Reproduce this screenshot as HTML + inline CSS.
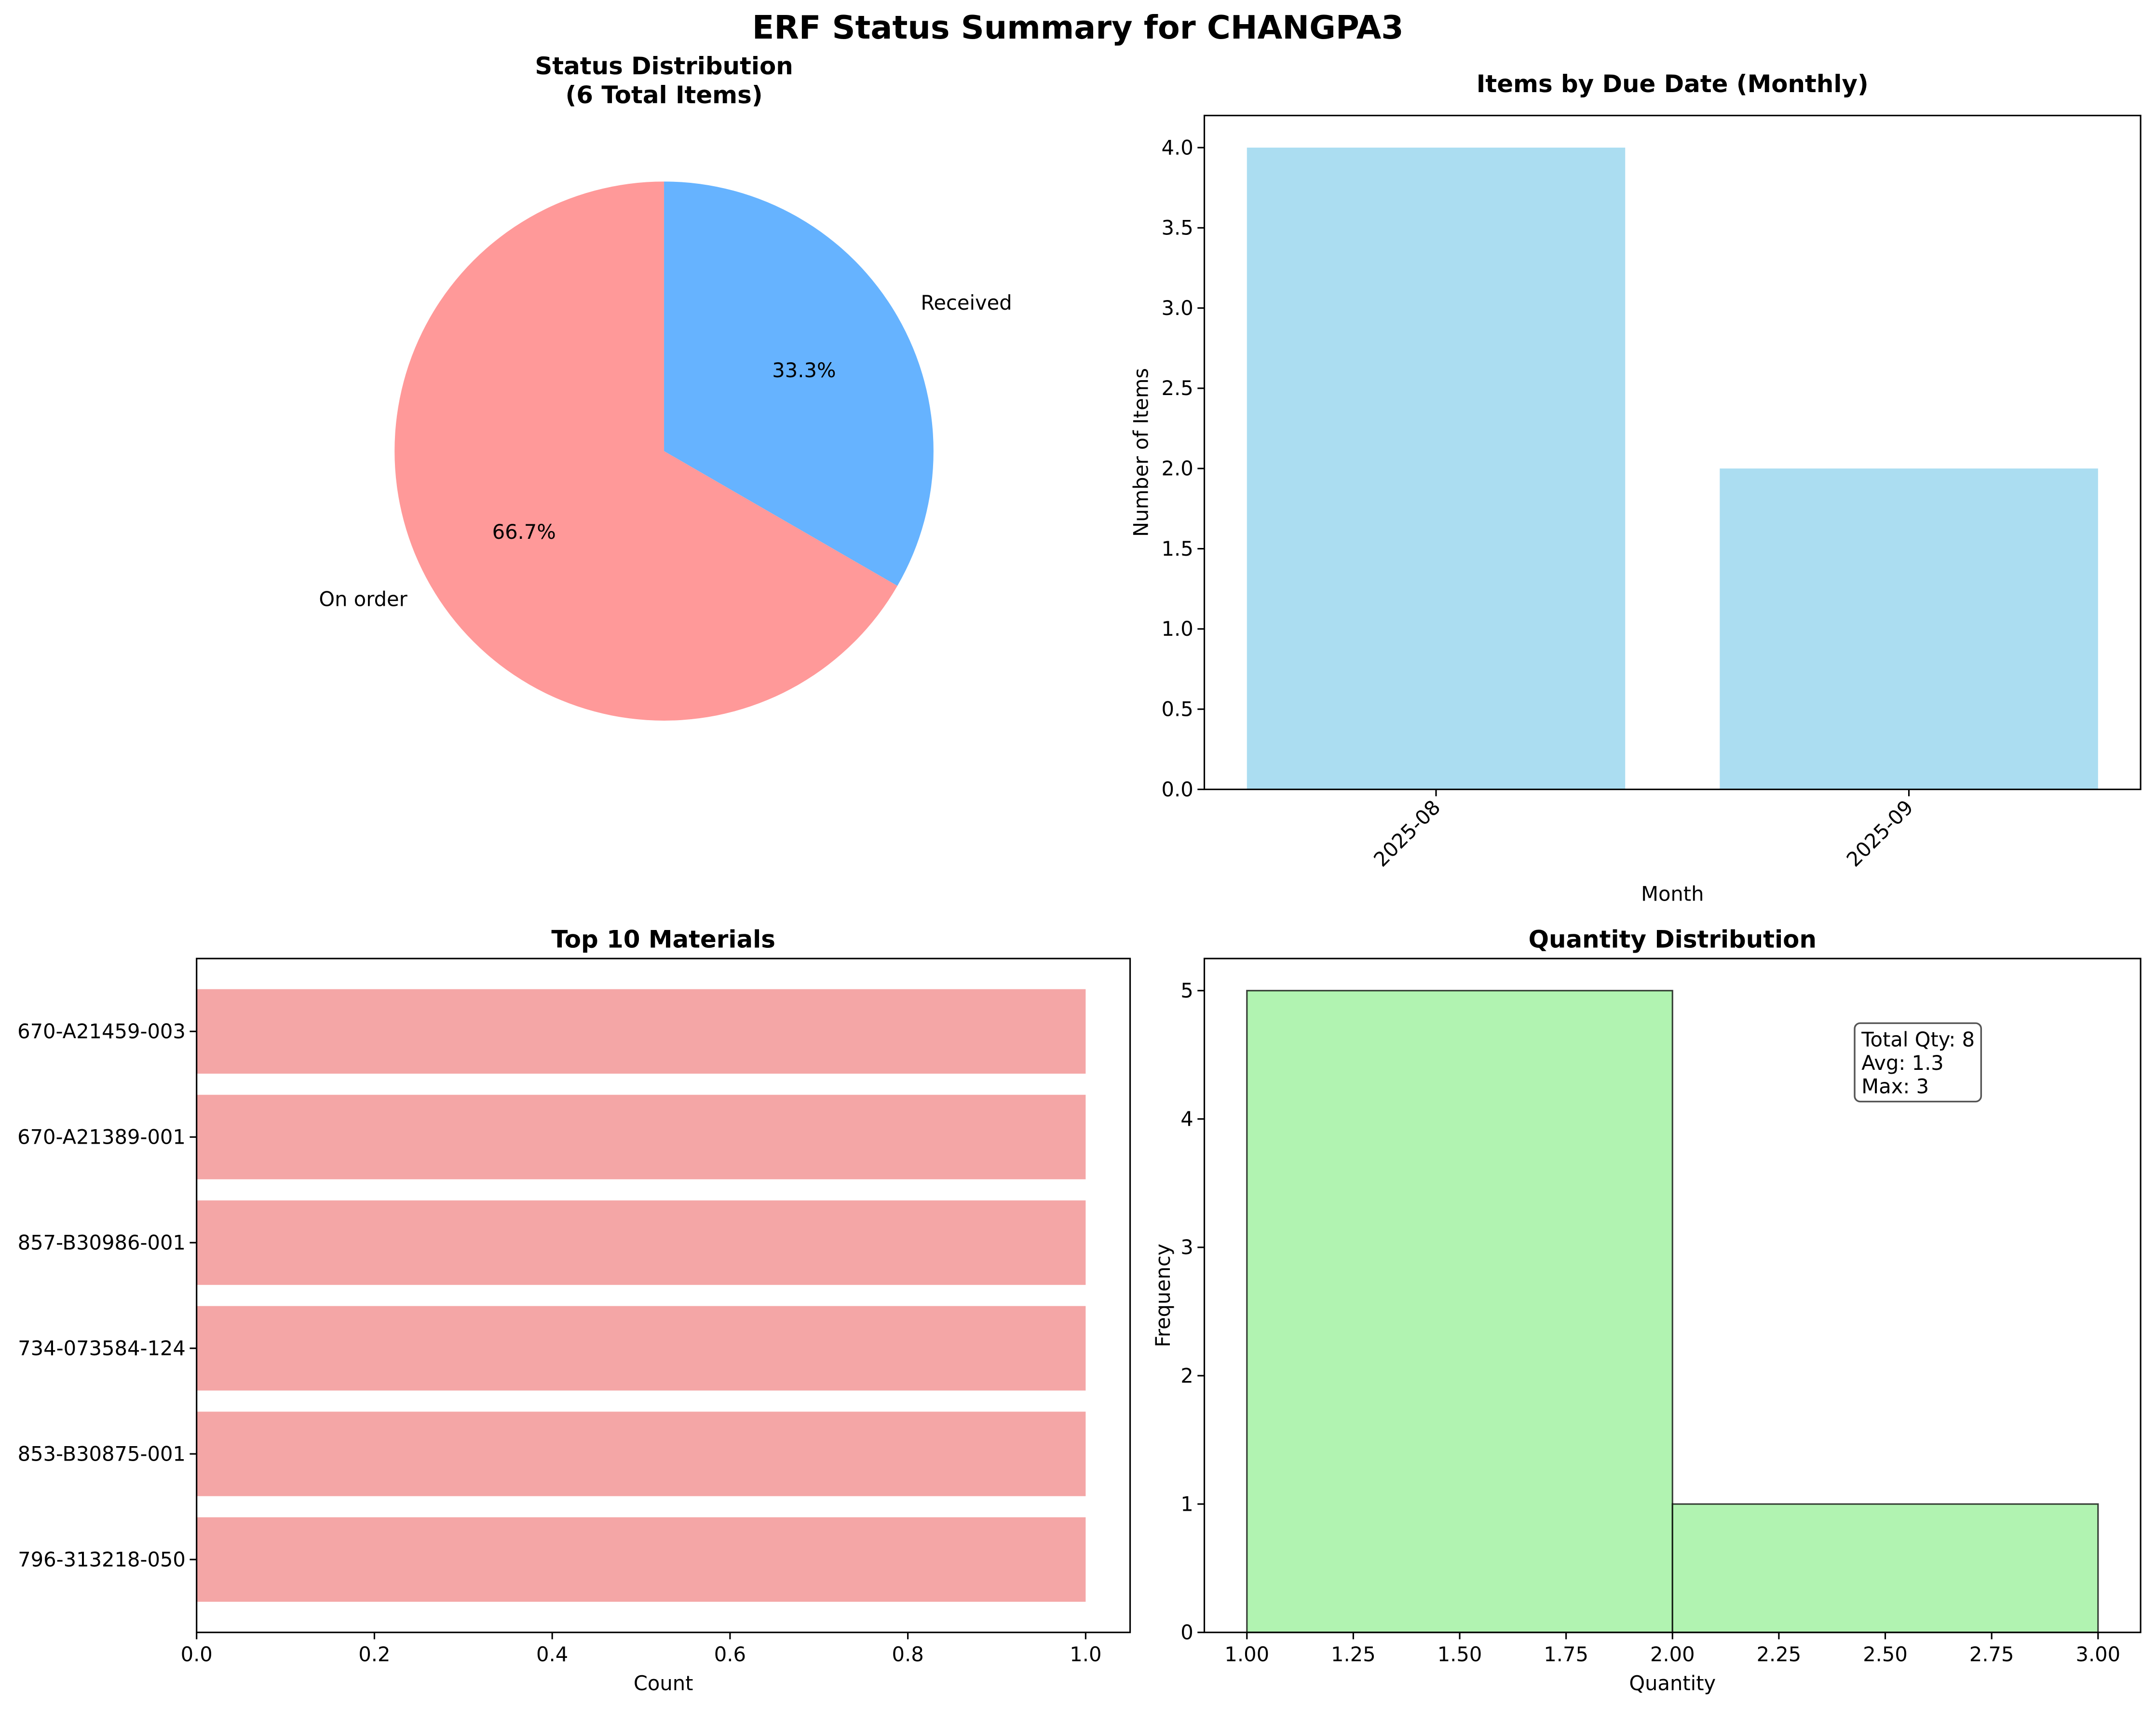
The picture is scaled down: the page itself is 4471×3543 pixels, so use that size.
<!DOCTYPE html>
<html><head><meta charset="utf-8"><style>
html,body{margin:0;padding:0;background:#fff}
svg{display:block}
text{font-family:"DejaVu Sans","Liberation Sans",sans-serif;fill:#000}
</style></head><body>
<svg id="fig" width="4471" height="3543" viewBox="0 0 1568.2 1242.7" preserveAspectRatio="none" xmlns="http://www.w3.org/2000/svg">
<text x="784" y="28" text-anchor="middle" font-size="23.4" font-weight="bold">ERF Status Summary for CHANGPA3</text>
<g id="pie"></g>
<g id="bar"></g>
<g id="barh"></g>
<g id="hist"></g>
</svg>
<script>
// Pie data
const pieLabels = ["On order", "Received"];
const pieValues = [4, 2];
// Monthly bar data
const months = ["2025-08", "2025-09"];
const monthCounts = [4, 2];
const barYTicks = [0, 0.5, 1, 1.5, 2, 2.5, 3, 3.5, 4];
// Materials
const materials = ["796-313218-050", "853-B30875-001", "734-073584-124", "857-B30986-001", "670-A21389-001", "670-A21459-003"];
const materialCounts = [1, 1, 1, 1, 1, 1];
const barhXTicks = [0, 0.2, 0.4, 0.6, 0.8, 1.0];
// Histogram
const histEdges = [1, 2, 3];
const histCounts = [5, 1];
const histXTicks = [1, 1.25, 1.5, 1.75, 2, 2.25, 2.5, 2.75, 3];
const histYTicks = [0, 1, 2, 3, 4, 5];
const statsLines = ["Total Qty: 8", "Avg: 1.3", "Max: 3"];

const NS = "http://www.w3.org/2000/svg";
function mk(parent, tag, attrs, txt) {
  const e = document.createElementNS(NS, tag);
  for (const k in attrs) e.setAttribute(k, attrs[k]);
  if (txt !== undefined) e.textContent = txt;
  parent.appendChild(e);
  return e;
}
const FS = 14.6, TS = 17.5;

// ---------- PIE ----------
(function(){
  const g = document.getElementById('pie');
  const cx = 483, cy = 328, r = 196;
  const colors = ["#ff9999", "#66b3ff"];
  const t = mk(g, 'text', {x: cx, y: 54, 'text-anchor': 'middle', 'font-size': TS, 'font-weight': 'bold'}, 'Status Distribution');
  
  
  const t2 = mk(g, 'text', {x: cx, y: 75, 'text-anchor': 'middle', 'font-size': TS, 'font-weight': 'bold'}, '(' + pieValues.reduce((a,b)=>a+b,0) + ' Total Items)');
  
  
  const total = pieValues.reduce((a,b)=>a+b,0);
  let ang = 90;
  pieValues.forEach((v, i) => {
    const sweep = v / total * 360;
    const a0 = ang * Math.PI/180, a1 = (ang + sweep) * Math.PI/180;
    const x0 = cx + r*Math.cos(a0), y0 = cy - r*Math.sin(a0);
    const x1 = cx + r*Math.cos(a1), y1 = cy - r*Math.sin(a1);
    const large = sweep > 180 ? 1 : 0;
    const p = mk(g, 'path', {d: `M${cx},${cy} L${x0},${y0} A${r},${r} 0 ${large} 0 ${x1},${y1} Z`, fill: colors[i]});
    
    
    const mid = (ang + sweep/2) * Math.PI/180;
    const lx = cx + 1.1*r*Math.cos(mid), ly = cy - 1.1*r*Math.sin(mid);
    const l = mk(g, 'text', {x: lx, y: ly + 5, 'text-anchor': Math.cos(mid) >= 0 ? 'start' : 'end', 'font-size': FS}, pieLabels[i]);
    
    
    const px = cx + 0.6*r*Math.cos(mid), py = cy - 0.6*r*Math.sin(mid);
    const pc = mk(g, 'text', {x: px, y: py + 5, 'text-anchor': 'middle', 'font-size': FS}, (v/total*100).toFixed(1) + '%');
    
    
    ang += sweep;
  });
})();

function frame(g, L, T, R, B) {
  const f = mk(g, 'rect', {x: L, y: T, width: R-L, height: B-T, fill: 'none', stroke: '#000', 'stroke-width': 1.1});
  
  
}
function ytick(g, L, y, label) {
  mk(g, 'line', {x1: L-5, x2: L, y1: y, y2: y, stroke: '#000', 'stroke-width': 1.1});
  const t = mk(g, 'text', {x: L-8, y: y+5, 'text-anchor': 'end', 'font-size': FS}, label);
  
  
}
function xtick(g, x, B, label) {
  mk(g, 'line', {x1: x, x2: x, y1: B, y2: B+5, stroke: '#000', 'stroke-width': 1.1});
  const t = mk(g, 'text', {x: x, y: B+21, 'text-anchor': 'middle', 'font-size': FS}, label);
  
  
}

// ---------- BAR ----------
(function(){
  const g = document.getElementById('bar');
  const L = 876, R = 1557, T = 84, B = 574;
  const n = months.length;
  const xmin = -0.4 - 0.05*(n-1+0.8), xmax = n-1+0.4 + 0.05*(n-1+0.8);
  const ymax = Math.max(...monthCounts) * 1.05;
  const sx = v => L + (v - xmin)/(xmax - xmin)*(R-L);
  const sy = v => B - v/ymax*(B-T);
  monthCounts.forEach((v, i) => {
    const b = mk(g, 'rect', {x: sx(i-0.4), y: sy(v), width: sx(i+0.4)-sx(i-0.4), height: B - sy(v), fill: '#87ceeb', 'fill-opacity': 0.7});
    
    
  });
  frame(g, L, T, R, B);
  barYTicks.forEach(v => ytick(g, L, sy(v), v.toFixed(1)));
  months.forEach((m, i) => {
    const x = sx(i);
    mk(g, 'line', {x1: x, x2: x, y1: B, y2: B+5, stroke: '#000', 'stroke-width': 1.1});
    const t = mk(g, 'text', {x: x+4, y: B+14, 'text-anchor': 'end', 'font-size': FS, transform: `rotate(-45 ${x+4} ${B+14})`}, m);
    
    
  });
  const tt = mk(g, 'text', {x: (L+R)/2, y: T-17, 'text-anchor': 'middle', 'font-size': TS, 'font-weight': 'bold'}, 'Items by Due Date (Monthly)');
  
  
  const xl = mk(g, 'text', {x: (L+R)/2, y: 655, 'text-anchor': 'middle', 'font-size': FS}, 'Month');
  
  
  const yl = mk(g, 'text', {x: 835, y: (T+B)/2, 'text-anchor': 'middle', 'font-size': FS, transform: `rotate(-90 835 ${(T+B)/2})`}, 'Number of Items');
  
  
})();

// ---------- BARH ----------
(function(){
  const g = document.getElementById('barh');
  const L = 143, R = 822, T = 697, B = 1187;
  const n = materials.length;
  const xmax = Math.max(...materialCounts) * 1.05;
  const span = (n-1+0.8);
  const ymin = -0.4 - 0.05*span, ymax = n-1+0.4 + 0.05*span;
  const sx = v => L + v/xmax*(R-L);
  const sy = v => B - (v - ymin)/(ymax - ymin)*(B-T);
  materialCounts.forEach((v, i) => {
    const b = mk(g, 'rect', {x: L, y: sy(i+0.4), width: sx(v)-L, height: sy(i-0.4)-sy(i+0.4), fill: '#f08080', 'fill-opacity': 0.7});
    
    
  });
  frame(g, L, T, R, B);
  materials.forEach((m, i) => ytick(g, L, sy(i), m));
  barhXTicks.forEach(v => xtick(g, sx(v), B, v.toFixed(1)));
  const tt = mk(g, 'text', {x: (L+R)/2, y: T-8, 'text-anchor': 'middle', 'font-size': TS, 'font-weight': 'bold'}, 'Top 10 Materials');
  
  
  const xl = mk(g, 'text', {x: (L+R)/2, y: 1229, 'text-anchor': 'middle', 'font-size': FS}, 'Count');
  
  
})();

// ---------- HIST ----------
(function(){
  const g = document.getElementById('hist');
  const L = 876, R = 1557, T = 697, B = 1187;
  const lo = histEdges[0], hi = histEdges[histEdges.length-1];
  const pad = (hi-lo)*0.05;
  const xmin = lo - pad, xmax = hi + pad;
  const ymax = Math.max(...histCounts) * 1.05;
  const sx = v => L + (v - xmin)/(xmax - xmin)*(R-L);
  const sy = v => B - v/ymax*(B-T);
  histCounts.forEach((c, i) => {
    const b = mk(g, 'rect', {x: sx(histEdges[i]), y: sy(c), width: sx(histEdges[i+1])-sx(histEdges[i]), height: B - sy(c), fill: '#90ee90', 'fill-opacity': 0.7, stroke: '#000', 'stroke-opacity': 0.75, 'stroke-width': 1.1});
    
    
  });
  frame(g, L, T, R, B);
  histYTicks.forEach(v => ytick(g, L, sy(v), String(v)));
  histXTicks.forEach(v => xtick(g, sx(v), B, v.toFixed(2)));
  const tt = mk(g, 'text', {x: (L+R)/2, y: T-8, 'text-anchor': 'middle', 'font-size': TS, 'font-weight': 'bold'}, 'Quantity Distribution');
  
  
  const xl = mk(g, 'text', {x: (L+R)/2, y: 1229, 'text-anchor': 'middle', 'font-size': FS}, 'Quantity');
  
  
  const yl = mk(g, 'text', {x: 851, y: 942, 'text-anchor': 'middle', 'font-size': FS, transform: 'rotate(-90 851 942)'}, 'Frequency');
  
  
  const box = mk(g, 'rect', {x: 1349, y: 744, width: 92, height: 57, rx: 4, fill: '#fff', stroke: '#555', 'stroke-width': 1.2});
  
  
  statsLines.forEach((s, i) => {
    const t = mk(g, 'text', {x: 1354, y: 761 + i*17, 'font-size': FS}, s);
    
    
  });
})();
</script>
</body></html>
